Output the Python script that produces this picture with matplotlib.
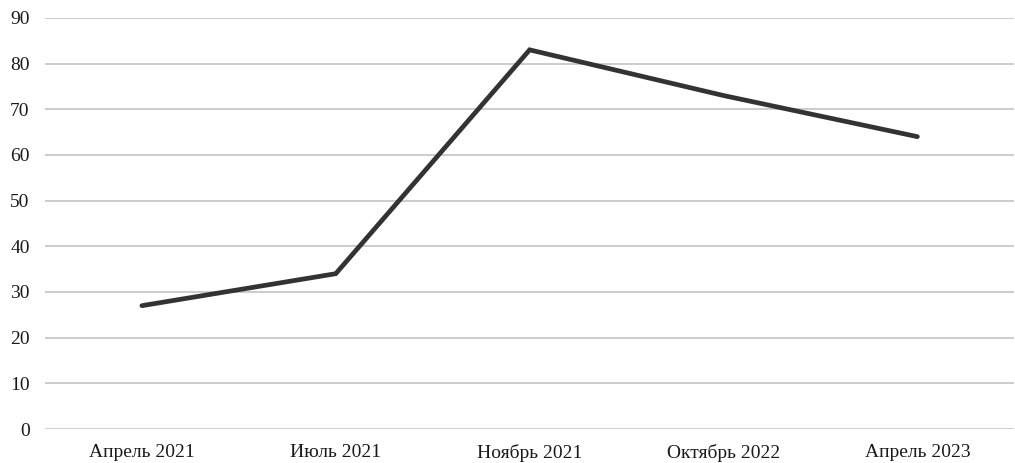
import matplotlib
matplotlib.use('Agg')
import matplotlib.pyplot as plt

plt.rcParams['font.family'] = ['Liberation Serif', 'DejaVu Serif']

categories = ['Апрель 2021', 'Июль 2021', 'Ноябрь 2021', 'Октябрь 2022', 'Апрель 2023']
values = [27, 34, 83, 73, 64]
y_ticks = list(range(0, 91, 10))

fig = plt.figure(figsize=(10.15, 4.63), dpi=100)
ax = fig.add_axes([0.0443, 0.0734, 0.955, 0.888])

x = list(range(len(categories)))
ax.plot(x, values, color='#333333', linewidth=3.4, solid_capstyle='round', solid_joinstyle='miter', zorder=3)

ax.set_xlim(-0.5, len(categories) - 0.5)
ax.set_ylim(0, 90)
ax.set_yticks(y_ticks)
ax.set_xticks(x)
ax.set_xticklabels(categories)

ax.grid(axis='y', color='#c8c8c8', linewidth=1.3)
ax.set_axisbelow(True)
for s in ax.spines.values():
    s.set_visible(False)
ax.tick_params(axis='both', length=0, labelsize=14, colors='#1a1a1a')
ax.tick_params(axis='y', pad=11)
ax.tick_params(axis='x', pad=11)

fig.savefig('out.png', dpi=100)
